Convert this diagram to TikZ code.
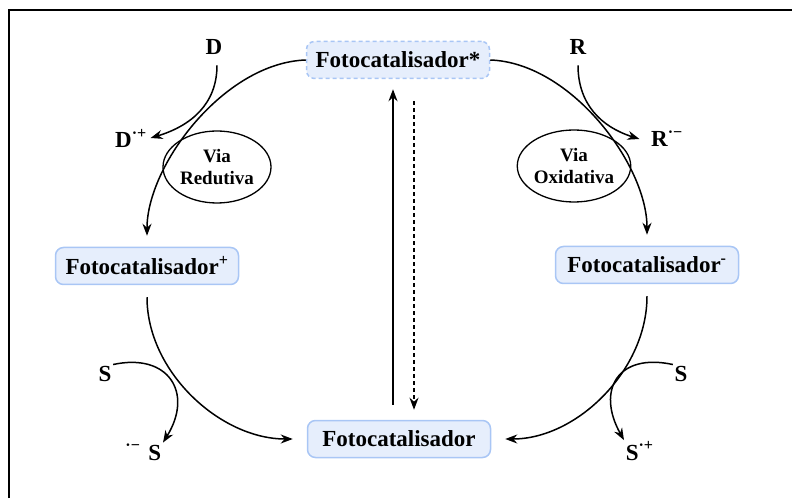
\documentclass[tikz,border=0pt]{standalone}
\usepackage{fontspec}
\setmainfont{Liberation Serif}
\usetikzlibrary{arrows.meta, shapes.geometric}

\definecolor{catfill}{HTML}{E6EEFC}
\definecolor{catline}{HTML}{A9C6F5}

\begin{document}
\begin{tikzpicture}[
      x=1pt, y=1pt,
      cat/.style = {draw=catline, line width=1.5pt, rounded corners=8pt, fill=catfill,
                    minimum width=183pt, minimum height=37pt, inner sep=2pt,
                    font=\fontsize{23}{27}\selectfont\bfseries},
      catex/.style = {cat, dash pattern=on 4pt off 3pt},
      spec/.style = {inner sep=1pt, font=\fontsize{23}{27}\selectfont\bfseries},
      via/.style = {draw, ellipse, line width=1.3pt, minimum width=108pt,
                    minimum height=72pt, align=center, inner sep=0pt,
                    font=\fontsize{19}{22}\selectfont\bfseries},
      >={Stealth[length=12pt,width=9pt]}, line width=1.5pt
    ]
    \useasboundingbox (0,0) rectangle (792,498);
    % moldura
    \draw[line width=2pt] (9,0) -- (9,488) -- (792,488);
    % fotocatalisador
    \node[catex] (pcstar)  at (398,438) {Fotocatalisador*};
    \node[cat]   (pcplus)  at (147,232) {Fotocatalisador\textsuperscript{+}};
    \node[cat]   (pcminus) at (647,233) {Fotocatalisador\textsuperscript{-}};
    \node[cat]   (pc)      at (399,59)  {Fotocatalisador};
    % especies
    \node[spec] (d)    at (214,451) {D};
    \node[spec] (drad) at (131,360) {D\textsuperscript{·+}};
    \node[spec] (r)    at (578,451) {R};
    \node[spec] (rrad) at (667,359) {R\textsuperscript{·−}};
    \node[spec] (s1)   at (105,124) {S};
    \node[spec, anchor=base east] (s1rad) at (163,38) {\textsuperscript{·−}\hspace{8pt}S};
    \node[spec] (s2)   at (681,124) {S};
    \node[spec, anchor=base west] (s2rad) at (624,38) {S\textsuperscript{·+}};
    % vias
    \node[via] (redut) at (217,331) {Via\\Redutiva};
    \node[via] (oxid)  at (574,332) {Via\\Oxidativa};
    % ciclo
    \draw[->, shorten >=11pt] (pcstar.west) to[out=182, in=90, looseness=0.85] (pcplus.north);
    \draw[->, shorten >=11pt] (pcstar.east) to[out=-2, in=90, looseness=0.85] (pcminus.north);
    \draw[->, shorten <=12pt, shorten >=14pt] (pcplus.south) to[out=-90, in=180] (pc.west);
    \draw[->, shorten <=12pt, shorten >=14pt] (pcminus.south) to[out=-90, in=0] (pc.east);
    \draw[->, shorten <=9pt] ([xshift=3pt]d.south) .. controls +(0,-48) and +(40,12) .. ([xshift=2pt]drad.east);
    \draw[->, shorten <=9pt] (r.south) .. controls +(0,-48) and +(-38,12) .. ([xshift=-10pt]rrad.west);
    \draw[->] (s1.north east) .. controls +(55,12) and +(31,50) .. (s1rad.north east);
    \draw[->] (s2.north west) .. controls +(-55,12) and +(-28,50) .. (s2rad.north west);
    % excitacao / decaimento
    \draw[->, shorten <=15pt, shorten >=10pt] ([xshift=-6pt]pc.north) -- ([xshift=-5pt]pcstar.south);
    \draw[->, dash pattern=on 4pt off 3pt, shorten <=22pt, shorten >=10pt]
      ([xshift=16pt]pcstar.south) -- ([xshift=15pt]pc.north);
\end{tikzpicture}
\end{document}
